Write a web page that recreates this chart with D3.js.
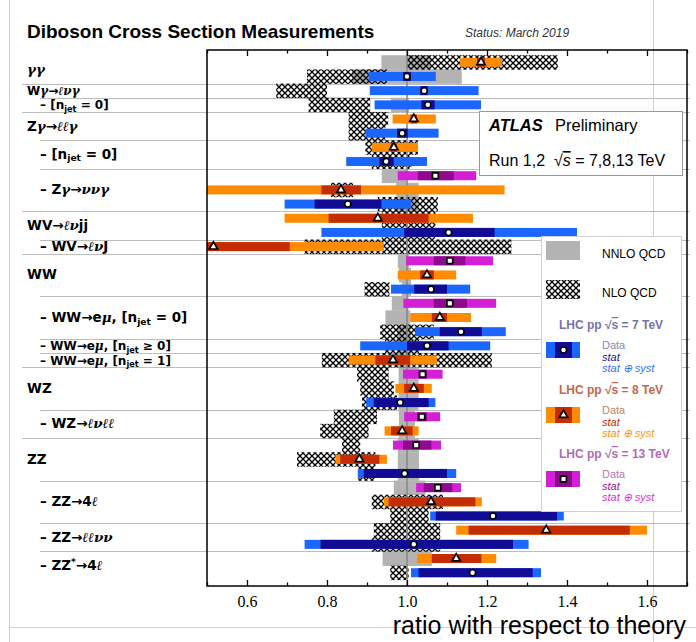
<!DOCTYPE html>
<html><head><meta charset="utf-8">
<script src="https://cdn.jsdelivr.net/npm/d3@7"></script>
<style>body{margin:0;background:#fff}svg{display:block}</style>
</head><body>
<svg id="c" width="696" height="642"></svg>
<script>
// centre-of-mass energy (TeV) of each measurement row, top to bottom
const rowEnergy = [8,7,7,7,8,7,8,7,13,8,7,8,7,8,13,8,7,13,8,7,7,8,13,8,7,13,8,13,8,7,13,8,7,8,7,8,7];
// measured / predicted ratio
const rowValue = [1.185,1.0,1.043,1.052,1.017,0.988,0.967,0.948,1.071,0.835,0.852,0.927,1.104,0.516,1.107,1.05,1.06,1.107,1.082,1.135,1.05,0.965,1.039,1.017,0.983,1.037,0.988,1.023,0.881,0.994,1.077,1.06,1.215,1.348,1.017,1.123,1.164];
// statistical-only interval
const rowStat = [[1.175,1.195],[0.99,1.01],[1.033,1.052],[1.036,1.069],[1.009,1.025],[0.975,1.002],[0.959,0.975],[0.931,0.967],[1.027,1.117],[0.786,0.885],[0.769,0.936],[0.804,1.054],[0.993,1.219],[0.325,0.707],[1.067,1.146],[1.033,1.067],[1.018,1.10],[1.067,1.15],[1.062,1.10],[1.082,1.187],[1.0,1.104],[0.921,1.008],[1.029,1.05],[0.993,1.042],[0.917,1.054],[1.025,1.05],[0.96,1.014],[0.99,1.061],[0.833,0.931],[0.892,1.10],[1.042,1.113],[0.954,1.171],[1.072,1.375],[1.154,1.557],[0.784,1.265],[1.062,1.186],[1.029,1.314]];
// stat (+) syst interval
const rowTotal = [[1.132,1.237],[0.904,1.072],[0.907,1.179],[0.919,1.185],[0.964,1.072],[0.896,1.079],[0.912,1.027],[0.848,1.05],[0.977,1.173],[0.40,1.244],[0.694,1.011],[0.694,1.165],[0.786,1.425],[0.09,0.942],[0.998,1.215],[0.977,1.123],[0.96,1.158],[0.991,1.223],[1.008,1.16],[1.021,1.247],[0.883,1.208],[0.854,1.075],[0.99,1.089],[0.971,1.062],[0.898,1.071],[0.993,1.083],[0.944,1.029],[0.965,1.085],[0.821,0.95],[0.877,1.123],[1.023,1.135],[0.942,1.187],[1.058,1.392],[1.123,1.60],[0.744,1.304],[1.025,1.223],[1.01,1.335]];
// theory uncertainty bands (ratio units)
const rowNNLO = [[0.936,1.06],[0.862,1.137],null,[0.96,1.005],null,null,null,null,[0.937,1.0],[0.973,1.029],[0.973,1.029],null,null,null,[0.977,1.005],[0.98,1.01],[0.987,1.01],[0.962,1.004],[0.946,1.008],[0.975,1.01],[0.975,1.01],[0.975,1.01],[0.979,1.029],[0.979,1.029],[0.979,1.029],[0.98,1.02],[0.98,1.02],[0.977,1.03],[0.977,1.03],[0.977,1.03],[0.967,1.046],null,null,null,null,[0.939,1.062],null];
const rowNLO = [[1.0,1.377],[0.75,0.95],[0.673,0.80],[0.754,0.908],[0.854,0.953],[0.854,0.946],[0.896,1.027],[0.912,1.012],null,[0.81,0.865],[0.927,1.077],[0.937,1.071],[0.937,1.07],[0.744,1.261],null,null,[0.894,0.956],null,null,[0.933,1.067],[0.945,1.03],[0.787,1.212],[0.875,0.954],[0.883,0.967],[0.8875,0.975],[0.817,0.925],[0.783,0.904],[0.8375,0.883],[0.725,0.921],[0.878,0.92],null,[0.912,1.09],[0.958,1.054],[0.917,1.083],[0.912,1.083],null,[0.958,1.004]];

// process labels: {..} italic symbols, _<..> subscript, ^<..> superscript
const labelText = ["{γγ}","W{γ}→{ℓνγ}","– [n_<jet> = 0]","Z{γ}→{ℓℓγ}","– [n_<jet> = 0]","– Z{γ}→{ννγ}","WV→{ℓν}jj","– WV→{ℓν}J","WW","– WW→e{μ}, [n_<jet> = 0]","– WW→e{μ}, [n_<jet> ≥ 0]","– WW→e{μ}, [n_<jet> = 1]","WZ","– WZ→{ℓνℓℓ}","ZZ","– ZZ→4{ℓ}","– ZZ→{ℓℓνν}","– ZZ^<*>→4{ℓ}"];
const labelRows = [[0,1],[2],[3],[4,5],[6,7],[8,9,10],[11,12],[13],[14,15,16],[17,18,19],[20],[21],[22,23,24],[25,26],[27,28,29],[30,31,32],[33,34],[35,36]];
const labelLevel = [0,0,1,0,1,1,0,1,0,1,1,1,0,1,0,1,1,1];

const majorTicks = [0.6,0.8,1.0,1.2,1.4,1.6];
const minorTicks = [0.5,0.7,0.9,1.1,1.3,1.5,1.7];

const energyStyle = {
  7:  {total:"#1a66ff", stat:"#120c94", marker:"circle", title:"#7474aa", data:"#8686b6", statTxt:"#1c1796", systTxt:"#2e72ff"},
  8:  {total:"#ff8c00", stat:"#c42c02", marker:"triangle", title:"#c0684e", data:"#cc806a", statTxt:"#c42c08", systTxt:"#ff9212"},
  13: {total:"#d41fd4", stat:"#900a90", marker:"square", title:"#ae6cb4", data:"#b87ab8", statTxt:"#961896", systTxt:"#d534d5"}
};
const legendEnergies = [7,8,13];

const svg = d3.select("#c");
const x = d3.scaleLinear([0.5,1.7],[207,687]);
const y = d3.scaleBand(d3.range(rowValue.length),[55.2,579.8]);
const P = {l:207,r:687,t:50,b:586};
const bw = y.bandwidth(), barH = 9;

const defs = svg.append("defs");
defs.append("clipPath").attr("id","plotclip").append("rect")
  .attr("x",P.l).attr("y",P.t).attr("width",P.r-P.l).attr("height",P.b-P.t);
const pat = defs.append("pattern").attr("id","xhatch").attr("patternUnits","userSpaceOnUse")
  .attr("width",6).attr("height",6);
pat.append("path").attr("d","M-1,-1L7,7M7,-1L-1,7").attr("stroke","#000").attr("stroke-width",1.35);

// page frame lines
const frame = svg.append("g").attr("stroke","#cfcfcf").attr("stroke-width",1);
frame.append("line").attr("x1",9.5).attr("x2",9.5).attr("y1",0).attr("y2",642);
frame.append("line").attr("x1",653.5).attr("x2",653.5).attr("y1",0).attr("y2",642);
frame.append("line").attr("x1",9).attr("x2",696).attr("y1",627.5).attr("y2",627.5);

// title
svg.append("text").attr("x",27).attr("y",38).attr("font-family","Liberation Sans, Arial, sans-serif")
  .attr("font-weight","bold").attr("font-size",19).text("Diboson Cross Section Measurements");
svg.append("text").attr("x",465).attr("y",37).attr("font-family","Liberation Sans, Arial, sans-serif")
  .attr("font-style","italic").attr("font-size",12).attr("fill","#333").text("Status: March 2019");

// rich label writer
function rich(t, str, size){
  const re = /\{([^}]*)\}|_<([^>]*)>|\^<([^>]*)>|([^{_^]+)/g;
  let m, pend = 0;
  while((m = re.exec(str))){
    let s;
    if(m[1]!==undefined){
      s = t.append("tspan").text(m[1]).attr("font-family","DejaVu Serif, serif").attr("font-style","italic");
      if(pend){s.attr("dy",pend);pend=0;}
    } else if(m[2]!==undefined){
      s = t.append("tspan").text(m[2]).attr("font-size",size*0.68).attr("dy",2.5+pend); pend=-2.5;
    } else if(m[3]!==undefined){
      s = t.append("tspan").text(m[3]).attr("font-size",size*0.68).attr("dy",-5+pend); pend=5;
    } else {
      s = t.append("tspan").text(m[4]);
      if(pend){s.attr("dy",pend);pend=0;}
    }
  }
}

// labels + row separators
const sepG = svg.append("g").attr("stroke","#bdbdbd").attr("stroke-width",1.2);
labelText.forEach((lab,i)=>{
  const rows = labelRows[i];
  const yc = d3.mean(rows, r => y(r)+bw/2);
  // a one-row label next to another one-row label has little room: use a smaller size
  const single = k => (labelRows[k]||[0,0]).length === 1;
  const size = (single(i) && (single(i-1) || single(i+1))) ? 12 : 13.5;
  const t = svg.append("text").attr("x", labelLevel[i] ? 40 : 27).attr("y", yc+4.5)
    .attr("font-family","DejaVu Sans, sans-serif").attr("font-weight","bold").attr("font-size",size).attr("fill","#000");
  rich(t, lab, size);
  if(i>0){
    const yy = Math.round(y(rows[0]))+0.5;
    sepG.append("line").attr("x1", labelLevel[i] ? 40 : 22).attr("x2",690).attr("y1",yy).attr("y2",yy);
  }
});

const plot = svg.append("g").attr("clip-path","url(#plotclip)");

// NNLO bands
plot.append("g").selectAll("rect").data(rowNNLO.map((d,i)=>({d,i})).filter(o=>o.d)).join("rect")
  .attr("x",o=>x(o.d[0])).attr("width",o=>x(o.d[1])-x(o.d[0]))
  .attr("y",o=>y(o.i)).attr("height",bw+0.3).attr("fill","#b3b3b3");
// NLO bands
plot.append("g").selectAll("rect").data(rowNLO.map((d,i)=>({d,i})).filter(o=>o.d)).join("rect")
  .attr("x",o=>x(o.d[0])).attr("width",o=>x(o.d[1])-x(o.d[0]))
  .attr("y",o=>y(o.i)).attr("height",bw+0.3).attr("fill","url(#xhatch)");

// unity line
plot.append("line").attr("x1",x(1)).attr("x2",x(1)).attr("y1",P.t).attr("y2",P.b)
  .attr("stroke","#8a8a8a").attr("stroke-width",1.6);

// measurements
const rows = rowValue.map((v,i)=>({i,v,e:rowEnergy[i],s:rowStat[i],t:rowTotal[i]}));
plot.append("g").selectAll("rect").data(rows).join("rect")
  .attr("x",d=>x(d.t[0])).attr("width",d=>x(d.t[1])-x(d.t[0]))
  .attr("y",d=>y(d.i)+bw/2-barH/2).attr("height",barH).attr("fill",d=>energyStyle[d.e].total);
plot.append("g").selectAll("rect").data(rows).join("rect")
  .attr("x",d=>x(d.s[0])).attr("width",d=>x(d.s[1])-x(d.s[0]))
  .attr("y",d=>y(d.i)+bw/2-barH/2).attr("height",barH).attr("fill",d=>energyStyle[d.e].stat);

const symbolFor = {circle:d3.symbol(d3.symbolCircle,30), triangle:d3.symbol(d3.symbolTriangle,30), square:d3.symbol(d3.symbolSquare,34)};
function marker(g, kind){
  g.append("path").attr("d",symbolFor[kind]()).attr("fill","#fff").attr("stroke","#000").attr("stroke-width",1.7);
}
plot.append("g").selectAll("g").data(rows).join("g")
  .attr("transform",d=>`translate(${x(d.v)},${y(d.i)+bw/2})`)
  .each(function(d){ marker(d3.select(this), energyStyle[d.e].marker); });

// axes
const fontAxis = "Liberation Serif, Times New Roman, serif";
const axB = svg.append("g").attr("transform",`translate(0,${P.b})`)
  .call(d3.axisBottom(x).tickValues(majorTicks).tickSize(-6).tickPadding(9.5).tickFormat(d3.format(".1f")));
axB.select(".domain").remove();
axB.selectAll("text").attr("font-family",fontAxis).attr("font-size",16).attr("fill","#000");
axB.selectAll("line").attr("stroke","#000").attr("stroke-width",1.3);
const axBm = svg.append("g").attr("transform",`translate(0,${P.b})`)
  .call(d3.axisBottom(x).tickValues(minorTicks).tickSize(-3.5).tickFormat(""));
axBm.select(".domain").remove(); axBm.selectAll("line").attr("stroke","#000").attr("stroke-width",1.3);
const axT = svg.append("g").attr("transform",`translate(0,${P.t})`)
  .call(d3.axisTop(x).tickValues(majorTicks).tickSize(-6).tickFormat(""));
axT.select(".domain").remove(); axT.selectAll("line").attr("stroke","#000").attr("stroke-width",1.3);
const axTm = svg.append("g").attr("transform",`translate(0,${P.t})`)
  .call(d3.axisTop(x).tickValues(minorTicks).tickSize(-3.5).tickFormat(""));
axTm.select(".domain").remove(); axTm.selectAll("line").attr("stroke","#000").attr("stroke-width",1.3);

svg.append("rect").attr("x",P.l).attr("y",P.t).attr("width",P.r-P.l).attr("height",P.b-P.t)
  .attr("fill","none").attr("stroke","#000").attr("stroke-width",1.5);

svg.append("text").attr("x",686).attr("y",634).attr("text-anchor","end")
  .attr("font-family","Liberation Sans, Arial, sans-serif").attr("font-size",25).text("ratio with respect to theory");

// ATLAS box
svg.append("rect").attr("x",479.5).attr("y",111.5).attr("width",203).attr("height",64)
  .attr("fill","#fff").attr("stroke","#9a9a9a").attr("stroke-width",1);
const fs = "Liberation Sans, Arial, sans-serif";
svg.append("text").attr("x",489).attr("y",131).attr("font-family",fs).attr("font-size",16.5)
  .attr("font-weight","bold").attr("font-style","italic").text("ATLAS");
svg.append("text").attr("x",555).attr("y",131).attr("font-family",fs).attr("font-size",16.5).text("Preliminary");
const run = svg.append("text").attr("x",489).attr("y",166).attr("font-family",fs).attr("font-size",16).attr("xml:space","preserve");
run.append("tspan").text("Run 1,2  √");
run.append("tspan").attr("font-style","italic").style("text-decoration","overline").text("s");
run.append("tspan").text(" = 7,8,13 TeV");

// legend
svg.append("rect").attr("x",541.5).attr("y",236.5).attr("width",140).attr("height",275)
  .attr("fill","#fff").attr("stroke","#d0d0d0").attr("stroke-width",1);
svg.append("rect").attr("x",546).attr("y",241).attr("width",34).attr("height",19).attr("fill","#b3b3b3");
svg.append("text").attr("x",602).attr("y",258).attr("font-family",fs).attr("font-size",12).text("NNLO QCD");
svg.append("rect").attr("x",546).attr("y",280).attr("width",34).attr("height",19).attr("fill","url(#xhatch)");
svg.append("text").attr("x",602).attr("y",297).attr("font-family",fs).attr("font-size",12).text("NLO QCD");

const legTop = {7:342, 8:407, 13:471};
legendEnergies.forEach(e=>{
  const st = energyStyle[e], sy = legTop[e];
  const tt = svg.append("text").attr("x",559).attr("y",sy-13).attr("font-family",fs).attr("font-size",12)
    .attr("font-weight","bold").attr("fill",st.title);
  tt.append("tspan").text("LHC pp  √");
  tt.append("tspan").style("text-decoration","overline").text("s");
  tt.append("tspan").text(` = ${e} TeV`);
  svg.append("rect").attr("x",546).attr("y",sy).attr("width",34).attr("height",16).attr("fill",st.total);
  svg.append("rect").attr("x",555).attr("y",sy).attr("width",17).attr("height",16).attr("fill",st.stat);
  marker(svg.append("g").attr("transform",`translate(563.5,${sy+8})`), st.marker);
  svg.append("text").attr("x",602).attr("y",sy+7).attr("font-family",fs).attr("font-size",11).attr("fill",st.data).text("Data");
  svg.append("text").attr("x",602).attr("y",sy+18.5).attr("font-family",fs).attr("font-size",11).attr("font-style","italic").attr("fill",st.statTxt).text("stat");
  svg.append("text").attr("x",602).attr("y",sy+30).attr("font-family",fs).attr("font-size",11).attr("font-style","italic").attr("fill",st.systTxt).text("stat ⊕ syst");
});
</script>
</body></html>
